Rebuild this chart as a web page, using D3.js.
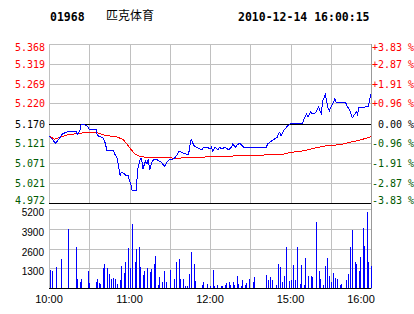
<!DOCTYPE html>
<html>
<head>
<meta charset="utf-8">
<script src="https://cdn.jsdelivr.net/npm/d3@7"></script>
<style>
  body { margin: 0; background: #fff; }
  svg { display: block; }
</style>
</head>
<body>
<svg id="chart" width="414" height="314"></svg>
<script>
// header
const stockCode = "01968";
const stockName = "匹克体育";
const stamp = "2010-12-14 16:00:15";

// price axis labels (top to bottom)
const priceTicks = ["5.368", "5.319", "5.269", "5.220", "5.170", "5.121", "5.071", "5.021", "4.972"];
const pctTicks = ["+3.83 %", "+2.87 %", "+1.91 %", "+0.96 %", " 0.00 %", "-0.96 %", "-1.91 %", "-2.87 %", "-3.83 %"];
const prevClose = 5.170;

// volume axis labels
const volTicks = [5200, 3900, 2600, 1300];

// time axis: minutes since 10:00 (lunch break removed)
const timeTicks = [0, 60, 120, 180, 240];
const timeLabels = ["10:00", "11:00", "12:00", "15:00", "16:00"];

// price line [minute, price]
const priceData = [
  [0, 5.139], [5, 5.121], [8, 5.134], [10, 5.144], [14, 5.150], [20, 5.151], [21, 5.142], [23, 5.151],
  [24, 5.168], [27, 5.166], [29, 5.162], [30, 5.156], [35, 5.156], [36, 5.140], [40, 5.135], [42, 5.121],
  [43, 5.104], [48, 5.104], [49, 5.094], [51, 5.082], [53, 5.040], [54, 5.049], [56, 5.045], [58, 5.039],
  [59, 5.040], [60, 5.028], [61, 5.020], [62, 5.002], [65, 5.002], [66, 5.053], [67, 5.068], [68, 5.082],
  [69, 5.082], [70, 5.057], [72, 5.077], [73, 5.069], [74, 5.082], [75, 5.054], [77, 5.077], [79, 5.082],
  [81, 5.079], [84, 5.073], [86, 5.063], [89, 5.079], [93, 5.082], [95, 5.090], [97, 5.101], [100, 5.096],
  [104, 5.092], [105, 5.115], [106, 5.130], [108, 5.115], [110, 5.111], [114, 5.104], [115, 5.111], [118, 5.111],
  [120, 5.106], [121, 5.111], [122, 5.102], [124, 5.111], [126, 5.104], [127, 5.111], [129, 5.106], [131, 5.111],
  [134, 5.104], [136, 5.111], [137, 5.119], [139, 5.111], [140, 5.116], [142, 5.121], [144, 5.115], [145, 5.111],
  [162, 5.111], [163, 5.119], [166, 5.127], [170, 5.135], [171, 5.144], [172, 5.148], [173, 5.139], [175, 5.153],
  [176, 5.156], [177, 5.161], [178, 5.164], [180, 5.170], [189, 5.170], [190, 5.180], [191, 5.187], [192, 5.194],
  [193, 5.186], [195, 5.200], [196, 5.195], [197, 5.194], [199, 5.198], [201, 5.212], [202, 5.200], [203, 5.194],
  [204, 5.227], [206, 5.242], [207, 5.225], [208, 5.209], [209, 5.202], [210, 5.210], [212, 5.223], [213, 5.231],
  [214, 5.223], [221, 5.223], [222, 5.215], [224, 5.204], [225, 5.194], [226, 5.184], [228, 5.194], [229, 5.200],
  [230, 5.192], [231, 5.209], [238, 5.212], [239, 5.231], [240, 5.242]
];

// average price line [minute, price]
const avgData = [
  [0, 5.139], [4, 5.131], [8, 5.135], [13, 5.141], [21, 5.145], [26, 5.147], [36, 5.147], [41, 5.141],
  [45, 5.139], [50, 5.137], [55, 5.131], [58, 5.119], [61, 5.106], [64, 5.094], [68, 5.087], [74, 5.086],
  [92, 5.084], [98, 5.084], [127, 5.088], [165, 5.092], [175, 5.094], [180, 5.098], [190, 5.102], [197, 5.108],
  [207, 5.115], [217, 5.117], [224, 5.123], [232, 5.129], [240, 5.137]
];

// volume bars [minute, volume]
const volData = [
  [1, 1200], [2, 1140], [5, 1400], [9, 1920], [14, 3890], [20, 2710], [21, 610], [23, 415], [24, 610],
  [29, 1136], [30, 350], [35, 415], [36, 610], [37, 350], [38, 284], [40, 1333], [41, 1595], [43, 1333],
  [45, 940], [46, 610], [48, 677], [49, 610], [51, 284], [53, 546], [54, 1464], [56, 1005], [57, 1726],
  [59, 2644], [60, 1333], [62, 4217], [64, 1726], [65, 2578], [67, 2710], [68, 1400], [70, 874], [71, 1136],
  [73, 1333], [75, 1070], [76, 1267], [78, 1595], [79, 2120], [81, 220], [82, 743], [84, 415], [86, 1136],
  [87, 415], [90, 1200], [93, 610], [95, 1726], [97, 1920], [98, 610], [100, 610], [101, 153], [103, 153],
  [104, 940], [106, 2380], [108, 1595], [109, 480], [114, 220], [115, 415], [118, 284], [120, 153], [122, 1200],
  [123, 153], [125, 220], [128, 153], [129, 153], [131, 220], [132, 350], [134, 415], [135, 220], [137, 415],
  [138, 220], [140, 808], [141, 284], [143, 153], [144, 546], [146, 220], [147, 350], [149, 610], [152, 415],
  [153, 743], [162, 874], [163, 546], [165, 700], [166, 546], [169, 175], [171, 1595], [172, 1355], [174, 393],
  [175, 765], [177, 2690], [179, 480], [180, 546], [182, 1530], [183, 546], [185, 2690], [187, 284], [188, 1530],
  [190, 175], [191, 1966], [193, 765], [195, 808], [196, 700], [199, 4326], [201, 1136], [202, 612], [204, 175],
  [206, 1464], [207, 1966], [209, 808], [210, 371], [212, 983], [213, 655], [215, 612], [217, 175], [218, 262],
  [221, 546], [223, 940], [224, 2690], [226, 3824], [228, 1682], [229, 1595], [231, 1136], [232, 2010],
  [234, 3933], [235, 2775], [237, 5026], [238, 1682], [240, 1420]
];

const svg = d3.select("#chart");
const gridColor = "#c0c0c0";
const upColor = "#ff0000";
const downColor = "#005a00";
const mono = "'DejaVu Sans Mono', monospace";
const sans = "'Liberation Sans', Arial, sans-serif";

const x = d3.scaleLinear().domain([0, 240]).range([49, 371]);
const yP = d3.scaleLinear().domain([4.972, 5.368]).range([203, 44]);
const yV = d3.scaleLinear().domain([0, 5200]).range([288, 209]);
const px = v => Math.round(v) + 0.5;

// Header
svg.append("text").attr("x", 50).attr("y", 21)
  .style("font-family", mono).style("font-weight", "bold").style("font-size", "11.5px")
  .text(stockCode);
svg.append("text").attr("x", 106).attr("y", 20)
  .style("font-family", "'Noto Sans CJK SC', sans-serif").style("font-size", "12px")
  .text(stockName);
svg.append("text").attr("x", 238).attr("y", 21)
  .style("font-family", mono).style("font-weight", "bold").style("font-size", "11.5px")
  .text(stamp);

// vertical grid for both panels
const vgrid = svg.append("g").attr("stroke", gridColor).attr("shape-rendering", "crispEdges");
d3.range(0, 241, 30).forEach(m => {
  vgrid.append("line").attr("x1", px(x(m))).attr("x2", px(x(m))).attr("y1", yP.range()[1]).attr("y2", yP.range()[0]);
  vgrid.append("line").attr("x1", px(x(m))).attr("x2", px(x(m))).attr("y1", yV.range()[1]).attr("y2", yV.range()[0]);
});

// price grid + labels
const priceVals = priceTicks.map(Number);
const pg = svg.append("g").attr("shape-rendering", "crispEdges");
priceVals.forEach((v, i) => {
  const yy = px(yP(v));
  const isRef = v === prevClose || i === priceVals.length - 1;
  pg.append("line").attr("x1", 49).attr("x2", 371).attr("y1", yy).attr("y2", yy)
    .attr("stroke", isRef ? "#000" : gridColor);
  const col = v > prevClose ? upColor : (v < prevClose ? downColor : "#000");
  // keep end labels inside the panel
  const shift = i === 0 ? 3 : (i === priceVals.length - 1 ? -3 : 0);
  svg.append("text").attr("x", 45).attr("y", yy + shift).attr("dy", "0.35em")
    .attr("text-anchor", "end").attr("fill", col)
    .style("font-family", mono).style("font-size", "10px")
    .text(priceTicks[i]);
  svg.append("text").attr("x", 372).attr("y", yy + shift).attr("dy", "0.35em")
    .attr("fill", col).attr("xml:space", "preserve")
    .style("font-family", mono).style("font-size", "10px").style("white-space", "pre")
    .text(pctTicks[i]);
});

// volume grid + labels
volTicks.forEach(v => {
  const yy = px(yV(v));
  pg.append("line").attr("x1", 49).attr("x2", 371).attr("y1", yy).attr("y2", yy).attr("stroke", gridColor);
  svg.append("text").attr("x", 44).attr("y", yy + 6)
    .attr("text-anchor", "end").attr("fill", "#000")
    .style("font-family", sans).style("font-size", "10px")
    .text(v);
});
pg.append("line").attr("x1", 49).attr("x2", 371).attr("y1", px(yV(0))).attr("y2", px(yV(0))).attr("stroke", "#000");

// right axis line
pg.append("line").attr("x1", px(x(240))).attr("x2", px(x(240))).attr("y1", 44).attr("y2", 289).attr("stroke", "#999");

// volume bars
svg.append("g").attr("fill", "#0000ff").attr("shape-rendering", "crispEdges")
  .selectAll("rect").data(volData).join("rect")
  .attr("x", d => Math.round(x(d[0])))
  .attr("width", 1)
  .attr("y", d => Math.round(yV(d[1])))
  .attr("height", d => Math.round(yV(0)) - Math.round(yV(d[1])));

// average and price lines (aliased, like the original)
const line = d3.line().x(d => x(d[0])).y(d => yP(d[1]));
svg.append("path").datum(avgData).attr("d", line)
  .attr("fill", "none").attr("stroke", "#ff0000").attr("stroke-width", 1)
  .attr("shape-rendering", "crispEdges");
svg.append("path").datum(priceData).attr("d", line)
  .attr("fill", "none").attr("stroke", "#0000ff").attr("stroke-width", 1)
  .attr("shape-rendering", "crispEdges");

// time labels
timeTicks.forEach((m, i) => {
  const last = i === timeTicks.length - 1;
  svg.append("text").attr("x", last ? x(m) - 10 : x(m)).attr("y", 303)
    .attr("text-anchor", "middle").attr("fill", "#000")
    .style("font-family", sans).style("font-size", "11px")
    .text(timeLabels[i]);
});
</script>
</body>
</html>
